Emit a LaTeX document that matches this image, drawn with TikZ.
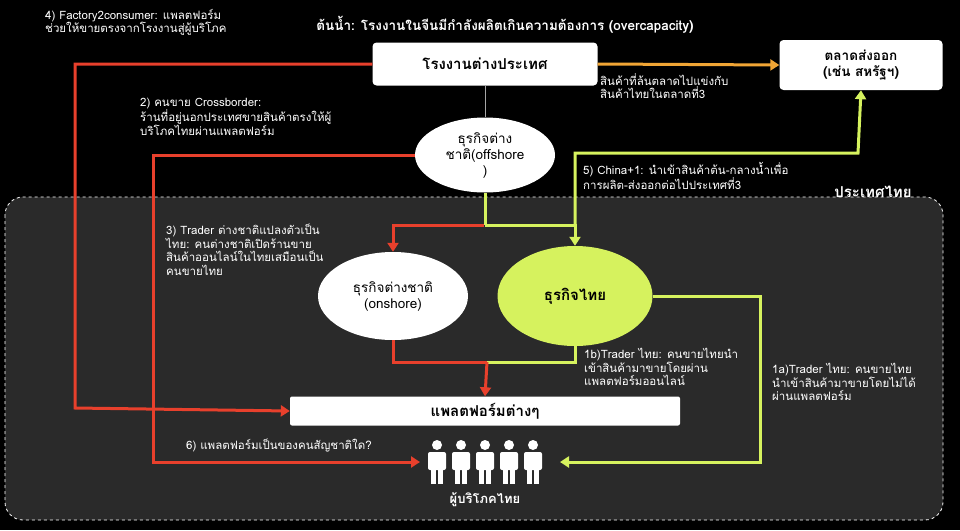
\documentclass[tikz,border=0pt]{standalone}
\usepackage{fontspec}
\setmainfont{Loma}[Script=Thai]
\usetikzlibrary{shapes.geometric,arrows.meta}
\definecolor{rd}{HTML}{E8402C}
\definecolor{gn}{HTML}{D6F25E}
\definecolor{og}{HTML}{F0A535}
\definecolor{bgd}{HTML}{2A2A2A}
\begin{document}
\begin{tikzpicture}[x=1pt,y=-1pt,
  box/.style={draw=none,fill=white,rounded corners=4pt,font=\bfseries\fontsize{15}{17}\selectfont,align=center},
  ell/.style={ellipse,fill=white,align=center,font=\fontsize{13.5}{16}\selectfont,inner sep=0pt},
  lbl/.style={text=white,align=left,font=\fontsize{11.5}{13.5}\selectfont,anchor=north west,inner sep=0pt},
  rl/.style={draw=rd,line width=3pt},
  gl/.style={draw=gn,line width=3pt},
  tip/.style={-{Triangle[length=9pt,width=11pt]}}]
\fill[black] (0,0) rectangle (960,530);
\useasboundingbox (0,0) rectangle (960,530);
\draw[white,dashed,fill=bgd,rounded corners=18pt,line width=0.8pt] (5,197) rectangle (943,520);
\node[text=white,font=\bfseries\fontsize{13.5}{16}\selectfont] (title) at (505,25) {ต้นน้ำ: โรงงานในจีนมีกำลังผลิตเกินความต้องการ (overcapacity)};
\node[box,minimum width=225,minimum height=43] (fac) at (485,64) {โรงงานต่างประเทศ};
\node[box,minimum width=163,minimum height=50,font=\bfseries\fontsize{13.5}{16}\selectfont] (mkt) at (861,65) {ตลาดส่งออก\\(เช่น สหรัฐฯ)};
\node[text=white,font=\bfseries\fontsize{15}{17}\selectfont] (th) at (873,192) {ประเทศไทย};
\node[ell,minimum width=140,minimum height=75] (off) at (485,155) {ธุรกิจต่าง\\ชาติ(offshore\\)};
\node[ell,minimum width=150,minimum height=88] (on) at (393,296) {ธุรกิจต่างชาติ\\(onshore)};
\node[ell,fill=gn,minimum width=155,minimum height=100,font=\bfseries\fontsize{15}{17}\selectfont] (thb) at (575,296) {ธุรกิจไทย};
\node[box,minimum width=390,minimum height=29,rounded corners=2pt] (plat) at (485,411) {แพลตฟอร์มต่างๆ};
\node[text=white,font=\bfseries\fontsize{13}{15}\selectfont] (cons) at (485,500) {ผู้บริโภคไทย};
\foreach \i in {0,...,4}{
  \fill[white] (437+\i*24,445) circle (5);
  \fill[white,rounded corners=2pt] (428+\i*24,452) rectangle (446+\i*24,470);
  \fill[white] (431+\i*24,466) rectangle (436+\i*24,484);
  \fill[white] (438+\i*24,466) rectangle (443+\i*24,484);}
\coordinate (cw) at (420,462); \coordinate (ce) at (560,462);
% labels
\node[lbl] at (45,9) {4) Factory2consumer: แพลตฟอร์ม\\ช่วยให้ขายตรงจากโรงงานสู่ผู้บริโภค};
\node[lbl] at (140,98) {2) คนขาย Crossborder:\\ร้านที่อยู่นอกประเทศขายสินค้าตรงให้ผู้\\บริโภคไทยผ่านแพลตฟอร์ม};
\node[lbl] at (166,224) {3) Trader ต่างชาติแปลงตัวเป็น\\ไทย: คนต่างชาติเปิดร้านขาย\\สินค้าออนไลน์ในไทยเสมือนเป็น\\คนขายไทย};
\node[lbl] at (600,73) {สินค้าที่ล้นตลาดไปแข่งกับ\\สินค้าไทยในตลาดที่3};
\node[lbl] at (583,162) {5) China+1: นำเข้าสินค้าต้น-กลางน้ำเพื่อ\\การผลิต-ส่งออกต่อไปประเทศที่3};
\node[lbl] at (584,348) {1b)Trader ไทย: คนขายไทยนำ\\เข้าสินค้ามาขายโดยผ่าน\\แพลตฟอร์มออนไลน์};
\node[lbl] at (772,363) {1a)Trader ไทย:  คนขายไทย\\นำเข้าสินค้ามาขายโดยไม่ได้\\ผ่านแพลตฟอร์ม};
\node[lbl] at (186,439) {6) แพลตฟอร์มเป็นของคนสัญชาติใด?};
% connectors
\draw[draw=og,line width=3pt,tip] (fac.east) -- (mkt.west);
\draw[gray!70,line width=1pt] (fac.south) -- (off.north);
\draw[rl,tip] (fac.west) -| (75,408) -- (plat.west);
\draw[rl,tip] (off.west) -| (153,462) -- (cw);
\draw[gl] (off.south) -- (485,225);
\draw[gl,tip] (485,225) -| (thb.north);
\draw[rl,tip] (484,225) -| (on.north);
\draw[gl,tip] (575,225) |- (858,153) -- (mkt.south);
\draw[rl] (on.south) |- (487,362);
\draw[gl] (thb.south) |- (487,362);
\draw[rl,tip] (487,362) -- (plat.north);
\draw[gl,tip] (thb.east) -| (760,462) -- (ce);
\end{tikzpicture}
\end{document}
